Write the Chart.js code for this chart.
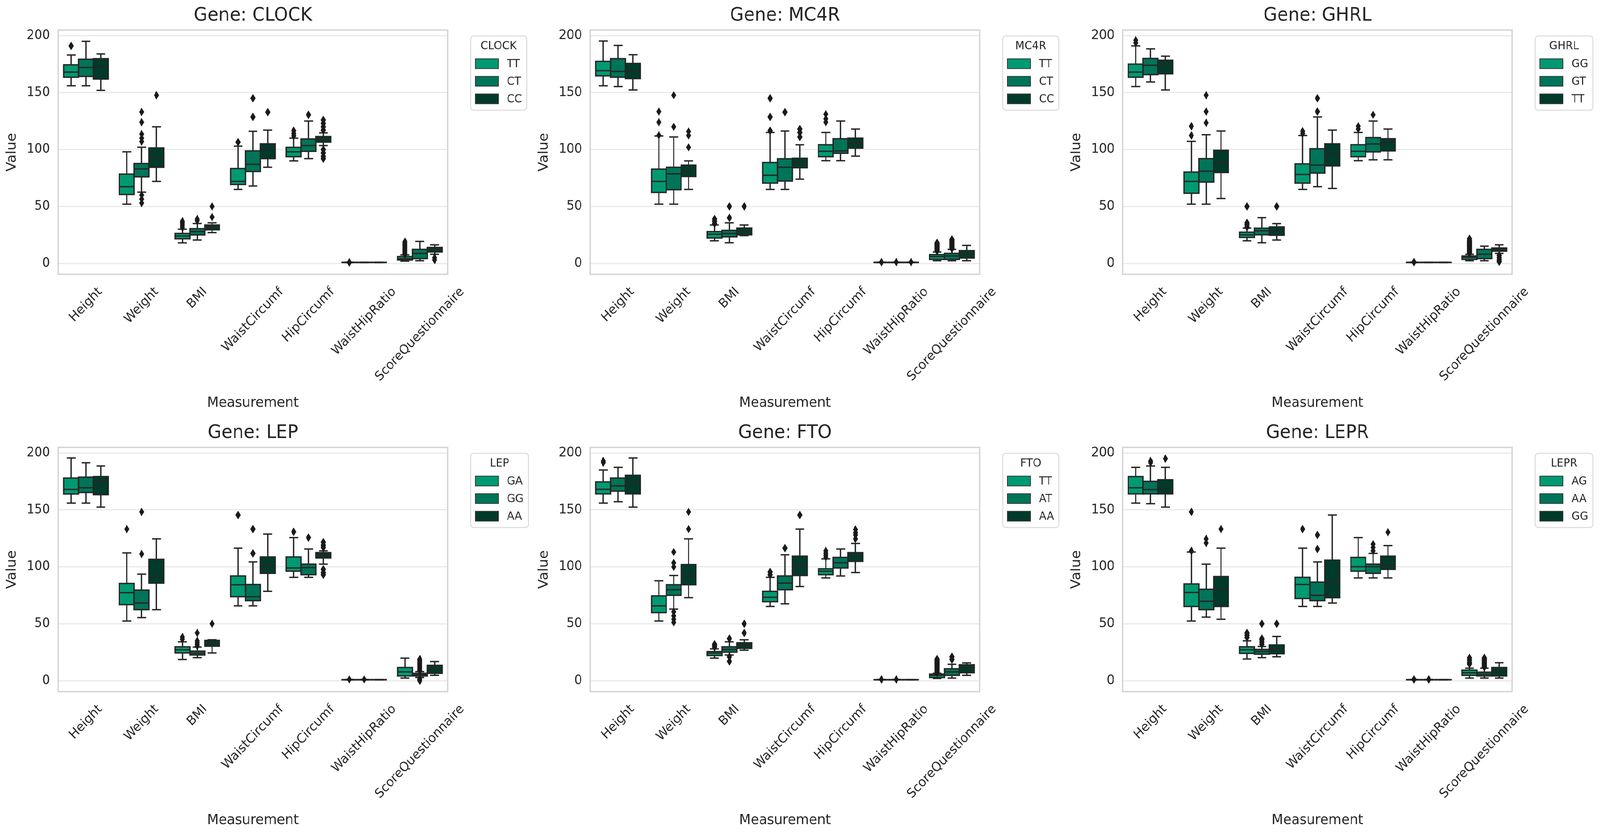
<!DOCTYPE html>
<html>
<head>
<meta charset="utf-8">
<script src="https://cdn.jsdelivr.net/npm/chart.js@4.4.0/dist/chart.umd.min.js"></script>
<style>
  html, body { margin: 0; padding: 0; background: #fff; overflow: hidden; }
  #wrap { position: relative; width: 4318px; height: 2142px; overflow: hidden; transform-origin: 0 0; }
  .panel { position: absolute; width: 1439px; height: 1068px; }
</style>
</head>
<body>
<div id="wrap"></div>
<script>
// categories on the x axis and the y ticks
const measurements = ['Height', 'Weight', 'BMI', 'WaistCircumf', 'HipCircumf', 'WaistHipRatio', 'ScoreQuestionnaire'];
const yTicks = [0, 50, 100, 150, 200];
const yMin = -9.6, yMax = 204.9;
const groupColors = ['#009a72', '#007458', '#003a2a'];

// every box: [lower whisker, Q1, median, Q3, upper whisker], one per measurement
// CLOCK
const clockTT = [[156,163.5,168,174.4,183],[52,60.5,67.4,78.4,98],[18,21.6,24,26.3,30],[65,69.3,72,83.3,103],[90,93.7,98,101.9,110],[0.74,0.82,0.87,0.92,1.0],[2,3,4,6,7.5]];
const clockCT = [[156,164.2,172,179.3,195],[62.6,76,83,87.7,102],[20.5,25,28,30.5,35],[68,80.7,87,98.8,116],[92,98.4,103.5,109.3,125],[0.76,0.83,0.87,0.91,0.99],[2.3,4.2,8.8,12.3,19.3]];
const clockCC = [[152,161.9,173,179.8,184],[72,84.4,93,101.4,120],[27,29.5,32,33.7,35.6],[84.4,92,100,105,117],[103.5,106.5,109,111.4,114.6],[0.77,0.84,0.88,0.92,0.98],[8,10,12.3,14,16.3]];
const clockTTOut = [[191],[],[31.5,33,34.5,36,37],[106.5],[112,114,116.5],[1.12,0.62],[8,9,10,11,12,13,14,15,16,17,18,19]];
const clockCTOut = [[],[107,110,113.5,124,133,60,56.5,53],[37.5,39],[128.6,145],[130.5],[],[]];
const clockCCOut = [[],[147.7],[40.7,50],[132.8],[117,120,123,126,100,97,94,92],[],[5,3]];
// MC4R
const mc4rTT = [[156,164.7,169.3,177.4,195.3],[52,62.3,72,82.8,111.9],[19.8,22.3,25.6,27.9,33.7],[65,70.5,77.4,88.6,115],[90.2,93.7,98.4,104.2,115],[0.74,0.82,0.87,0.92,1.0],[2.3,3.5,6,7.7,10]];
const mc4rCT = [[155.3,163.5,168.6,179.8,191.4],[52,64.7,78.6,84.4,111],[18.1,23.3,26.3,29,35.6],[65,72.3,84.4,91.9,116.3],[90.2,96.7,98.8,109.5,125],[0.75,0.82,0.87,0.92,1.0],[2.3,3.5,6.5,8.8,12.3]];
const mc4rCC = [[152.3,162.3,168.6,175.6,183.3],[65,76.3,81,86.3,90],[24.4,25.1,27.9,31,33.7],[74,84,88.6,92.3,104.2],[94.2,101.2,105.8,110,118],[0.76,0.83,0.88,0.92,1.0],[2.3,4.7,8.1,11.2,15.8]];
const mc4rTTOut = [[],[112.5,124,133.3],[35,37,39],[116.5,128.6,145],[124,127,131],[1.12],[11,12,13,14,15,16,17,18]];
const mc4rCTOut = [[],[120,147.7],[40,50],[132.8],[],[1.12],[13,14,15,16,17,18,19,20,21]];
const mc4rCCOut = [[],[101.9,112.3,115.8],[50],[111,115,118],[],[1.12],[]];
// GHRL
const ghrlGG = [[155.3,163.5,168,175,191],[52,61.6,72,80.2,107.2],[19.8,22.8,25.1,27.4,31],[65,70.5,78.1,87.4,112.3],[90.2,93.7,98.4,104.2,115],[0.74,0.82,0.87,0.92,1.0],[2.3,3.5,5.3,6.5,8]];
const ghrlGT = [[159.3,165.8,174,180,188.4],[52,71.4,81,92,113],[18.1,25.1,28.6,30.9,40.2],[67.4,79.3,86.3,100.7,128.6],[91,97.9,104.9,110.5,125],[0.76,0.83,0.87,0.91,0.99],[2.3,4.2,8.1,12.3,15.1]];
const ghrlTT = [[152.3,166.5,175,178.4,182],[57,79.8,88,99.3,116.3],[20.5,24.7,28.6,32,34.9],[65.8,85.6,97.2,105,117],[91,98.8,106.5,109.5,118],[0.77,0.84,0.88,0.92,0.98],[8.8,10.7,12.3,13.5,16.3]];
const ghrlGGOut = [[193.7,196],[112.3,120.5],[32,34,35.6,50],[114,116],[118,120.5],[1.12],[9,10,11,12,13,14,15,16,17,18,19,20,21.6]];
const ghrlGTOut = [[],[123.5,133.3,147.7],[],[133.3,145],[130.5],[],[]];
const ghrlTTOut = [[],[],[50],[],[],[],[7,5,3,1.5]];
// LEP
const lepGA = [[156,164,168,178,195.6],[52.4,66.8,77.3,85.4,112.2],[18.6,24.4,27.2,29.8,34.2],[65.7,73.8,84.3,92,116.4],[90.8,96.2,99,108.7,125.7],[0.74,0.82,0.87,0.92,1.0],[2.3,4.2,7.7,11.6,19.8]];
const lepGG = [[156,165.3,169.5,178.8,191.4],[55.4,62.4,68.2,79.6,93.6],[20.3,22.6,24.2,26,29.5],[65.7,70.3,73.8,84.5,104.3],[90.8,93.1,99.4,102.4,115.7],[0.75,0.82,0.87,0.92,1.0],[2.8,4.2,5.4,6.5,8]];
const lepAA = [[152.5,163.4,174.6,179.3,188.6],[62.4,85.7,92,106.6,124.6],[24.4,30.3,32.6,35.4,36],[78.5,94.3,101.7,108.7,128.8],[102.4,107.8,110.6,112.5,114],[0.77,0.84,0.88,0.92,0.98],[4.7,6.5,10.5,13.5,16.8]];
const lepGAOut = [[],[133.2],[36.5,38.4],[145.5],[130.8],[1.12],[]];
const lepGGOut = [[],[111.3,148.3],[30.5,32,33.5,35,42],[111.8,133.2],[125.7],[1.12],[0,0.8,1.5,9,10,11,12,13,14,15,16,17,18,19]];
const lepAAOut = [[],[],[50],[],[117,119,121.7,97.8,95,93.1],[],[]];
// FTO
const ftoTT = [[156,164.1,168.1,174.6,185.1],[52.4,59.8,65.7,74.5,87.8],[19.8,22.1,24.2,25.6,28],[65.2,69.4,73.3,78.5,90.8],[90.3,93.1,96.2,98.3,107],[0.74,0.82,0.87,0.92,1.0],[2,2.8,4.7,5.8,6.5]];
const ftoAT = [[157.2,166.5,171.1,178,187.4],[62.9,75,79.9,84.3,92.4],[22.6,25.1,27.5,29.8,34.2],[67.5,79.9,85.7,92,110.6],[92,99,103.6,108.3,115.7],[0.75,0.82,0.87,0.92,1.0],[2.3,4.7,7.7,10.5,14.4]];
const ftoAA = [[152.5,164.1,174.6,180.4,195.6],[72.9,84.3,92,102,124.6],[26.8,28.4,31.4,33.3,36],[82.7,92.4,100.5,109.4,133.2],[95,104.8,109.4,112.5,120.6],[0.77,0.84,0.88,0.92,0.98],[4.7,7,11,14,15.6]];
const ftoTTOut = [[191.6,193],[],[29.5,31,32],[93,95.5],[108.5,110.2,112,114],[1.12],[7,8,9,10,11,12,13,14,15,16,17,18,19]];
const ftoATOut = [[],[100,103.6,113,60.5,57,54,51.2],[37,21,17],[116.4],[],[1.12],[18.6,21]];
const ftoAAOut = [[],[133.2,148.3],[42,50],[145.5],[124.6,128,130,132.7],[],[]];
// LEPR
const leprAG = [[156,164.1,169.5,179.3,187.4],[52.4,65.2,77.5,85,113],[19.1,24,27.2,29.8,35],[65.2,72.2,84.5,90.8,116.4],[90.3,96.2,100.1,108.3,125.7],[0.74,0.82,0.87,0.92,1.0],[2.3,4.7,7,9.3,11]];
const leprAA = [[155.5,164.1,167.8,175.1,188.6],[55.9,62.4,69.8,80.3,102.4],[20.3,23.3,25.6,27.5,30],[65.2,70.3,75,86.6,104.3],[90.3,94.3,100.1,102.4,111.8],[0.75,0.82,0.87,0.92,1.0],[2.3,4.2,5.8,7.5,11]];
const leprGG = [[152.5,164.1,168.1,176.5,187.4],[54,65.2,80.3,91.5,116.4],[21,23.7,27.9,31.4,38.9],[68.2,72.9,86.6,105.9,145.5],[90.3,97.8,102.4,109.4,118.7],[0.77,0.84,0.88,0.92,0.98],[2.3,4.2,8.1,11.6,15.8]];
const leprAGOut = [[],[114,148.3],[38,40,42],[133.2],[],[1.12],[14.7,16,18,20]];
const leprAAOut = [[191.5,193],[121,124.6],[32,34,36,37,50],[115.7,128],[114,117,120],[1.12],[12,13,14,15,16,17,18,19,20]];
const leprGGOut = [[195],[133.2],[50],[],[130.4],[],[]];

const panels = [
  { gene: 'CLOCK', groups: ['TT', 'CT', 'CC'], boxes: [clockTT, clockCT, clockCC], fliers: [clockTTOut, clockCTOut, clockCCOut] },
  { gene: 'MC4R',  groups: ['TT', 'CT', 'CC'], boxes: [mc4rTT, mc4rCT, mc4rCC],    fliers: [mc4rTTOut, mc4rCTOut, mc4rCCOut] },
  { gene: 'GHRL',  groups: ['GG', 'GT', 'TT'], boxes: [ghrlGG, ghrlGT, ghrlTT],    fliers: [ghrlGGOut, ghrlGTOut, ghrlTTOut] },
  { gene: 'LEP',   groups: ['GA', 'GG', 'AA'], boxes: [lepGA, lepGG, lepAA],       fliers: [lepGAOut, lepGGOut, lepAAOut] },
  { gene: 'FTO',   groups: ['TT', 'AT', 'AA'], boxes: [ftoTT, ftoAT, ftoAA],       fliers: [ftoTTOut, ftoATOut, ftoAAOut] },
  { gene: 'LEPR',  groups: ['AG', 'AA', 'GG'], boxes: [leprAG, leprAA, leprGG],    fliers: [leprAGOut, leprAAOut, leprGGOut] }
];

const FONT = '"DejaVu Sans", "Liberation Sans", sans-serif';
const textColor = '#262626';
const lineColor = '#262626';
Chart.defaults.font.family = FONT;
Chart.defaults.color = textColor;

// whiskers, caps, box outlines, medians and fliers on top of the floating bars
const boxPlugin = {
  id: 'boxes',
  afterDatasetsDraw(chart) {
    const { ctx, chartArea: a, scales: { y } } = chart;
    const py = v => y.getPixelForValue(v);
    ctx.save();
    ctx.beginPath();
    ctx.rect(a.left, a.top, a.right - a.left, a.bottom - a.top);
    ctx.clip();
    ctx.lineWidth = 3.5;
    ctx.strokeStyle = lineColor;
    chart.data.datasets.forEach((ds, di) => {
      chart.getDatasetMeta(di).data.forEach((bar, i) => {
        const { x, width } = bar.getProps(['x', 'width'], true);
        const [lo, q1, med, q3, hi] = ds.stats[i];
        const left = x - width / 2, cap = width * 0.3;
        ctx.beginPath();
        ctx.moveTo(x, py(q3)); ctx.lineTo(x, py(hi));
        ctx.moveTo(x, py(q1)); ctx.lineTo(x, py(lo));
        ctx.moveTo(x - cap, py(hi)); ctx.lineTo(x + cap, py(hi));
        ctx.moveTo(x - cap, py(lo)); ctx.lineTo(x + cap, py(lo));
        ctx.stroke();
        ctx.strokeRect(left, py(q3), width, py(q1) - py(q3));
        ctx.beginPath();
        ctx.moveTo(left, py(med)); ctx.lineTo(left + width, py(med));
        ctx.stroke();
        ctx.fillStyle = '#1a1a1a';
        ds.fliers[i].forEach(v => {
          const fy = py(v);
          ctx.beginPath();
          ctx.moveTo(x, fy - 11); ctx.lineTo(x + 7, fy); ctx.lineTo(x, fy + 11); ctx.lineTo(x - 7, fy);
          ctx.closePath();
          ctx.fill();
        });
      });
    });
    ctx.restore();
  }
};

// axes frame and 45 degree category labels centred under each tick
const framePlugin = {
  id: 'frame',
  afterDraw(chart) {
    const { ctx, chartArea: a, scales: { x } } = chart;
    ctx.save();
    ctx.strokeStyle = '#d4d4d4';
    ctx.lineWidth = 3.5;
    ctx.strokeRect(a.left, a.top, a.right - a.left, a.bottom - a.top);
    ctx.font = '33px ' + FONT;
    ctx.fillStyle = textColor;
    ctx.textAlign = 'center';
    ctx.textBaseline = 'middle';
    const h = 33 * 1.17;
    chart.data.labels.forEach((label, i) => {
      const w = ctx.measureText(label).width;
      const half = (w + h) * Math.SQRT1_2 / 2;
      ctx.save();
      ctx.translate(x.getPixelForTick(i), a.bottom + 26 + half);
      ctx.rotate(-Math.PI / 4);
      ctx.fillText(label, 0, 0);
      ctx.restore();
    });
    ctx.restore();
  }
};

// framed legend to the right of the axes, with the gene as its title
const legendPlugin = {
  id: 'genoLegend',
  afterDraw(chart, args, opts) {
    const { ctx, chartArea: a } = chart;
    ctx.save();
    ctx.font = '29px ' + FONT;
    const titleW = ctx.measureText(opts.title).width;
    const labelW = Math.max(...chart.data.datasets.map(d => ctx.measureText(d.label).width));
    const w = Math.max(titleW + 52, 13 + 62 + 23 + labelW + 13);
    const left = a.right + 62, top = a.top + 15, hgt = 190;
    ctx.beginPath();
    if (ctx.roundRect) ctx.roundRect(left, top, w, hgt, 8); else ctx.rect(left, top, w, hgt);
    ctx.fillStyle = 'rgba(255,255,255,0.85)';
    ctx.fill();
    ctx.strokeStyle = '#dadada';
    ctx.lineWidth = 2.5;
    ctx.stroke();
    ctx.fillStyle = textColor;
    ctx.textBaseline = 'middle';
    ctx.textAlign = 'center';
    ctx.fillText(opts.title, left + w / 2, top + 26);
    ctx.textAlign = 'left';
    chart.data.datasets.forEach((ds, k) => {
      const cy = top + 71 + k * 45;
      ctx.fillStyle = ds.backgroundColor;
      ctx.fillRect(left + 13, cy - 12.5, 62, 25);
      ctx.strokeStyle = '#333';
      ctx.lineWidth = 2;
      ctx.strokeRect(left + 13, cy - 12.5, 62, 25);
      ctx.fillStyle = textColor;
      ctx.fillText(ds.label, left + 98, cy + 1);
    });
    ctx.restore();
  }
};

const wrap = document.getElementById('wrap');
// fit the 4318x2142 layout into whatever viewport the page actually gets
const fitX = (window.innerWidth || 4318) / 4318;
const fitY = (window.innerHeight || 2142) / 2142;
if (Math.abs(fitX - 1) > 0.002 || Math.abs(fitY - 1) > 0.002) {
  wrap.style.transform = 'scale(' + fitX + ',' + fitY + ')';
}
const colLeft = [0, 1436, 2873];
const rowTop = [0, 1068];

panels.forEach((p, n) => {
  const div = document.createElement('div');
  div.className = 'panel';
  div.style.left = colLeft[n % 3] + 'px';
  div.style.top = rowTop[Math.floor(n / 3)] + 'px';
  const canvas = document.createElement('canvas');
  div.appendChild(canvas);
  wrap.appendChild(div);

  const datasets = p.groups.map((g, k) => ({
    label: g,
    data: p.boxes[k].map(b => [b[1], b[3]]),
    stats: p.boxes[k],
    fliers: p.fliers[k],
    backgroundColor: groupColors[k],
    borderWidth: 0,
    categoryPercentage: 0.8,
    barPercentage: 1.0
  }));

  new Chart(canvas, {
    type: 'bar',
    data: { labels: measurements, datasets },
    options: {
      responsive: true,
      maintainAspectRatio: false,
      animation: false,
      events: [],
      layout: { padding: { left: 0, right: 231, top: 0, bottom: 0 } },
      plugins: {
        legend: { display: false },
        tooltip: { enabled: false },
        title: {
          display: true, text: 'Gene: ' + p.gene, fullSize: false, color: textColor,
          font: { size: 48, weight: 'normal', lineHeight: 1.2 },
          padding: { top: 12, bottom: 7.4 }
        },
        genoLegend: { title: p.gene }
      },
      scales: {
        x: {
          grid: { display: false },
          border: { display: false },
          ticks: { display: false },
          title: { display: true, text: 'Measurement', color: textColor, font: { size: 36, lineHeight: 1.2 }, padding: { top: 0, bottom: 15 } },
          afterFit: s => { s.height = 366; }
        },
        y: {
          min: yMin, max: yMax,
          grid: { color: '#e9e9e9', lineWidth: 3, drawTicks: false },
          border: { display: false },
          ticks: { font: { size: 33 }, color: textColor, padding: 22, includeBounds: false },
          afterBuildTicks: s => { s.ticks = yTicks.map(v => ({ value: v })); },
          title: { display: true, text: 'Value', color: textColor, font: { size: 36, lineHeight: 1.2 }, padding: { top: 11, bottom: 0 } },
          afterFit: s => { s.width = 157; }
        }
      }
    },
    plugins: [boxPlugin, framePlugin, legendPlugin]
  });
});
</script>
</body>
</html>
